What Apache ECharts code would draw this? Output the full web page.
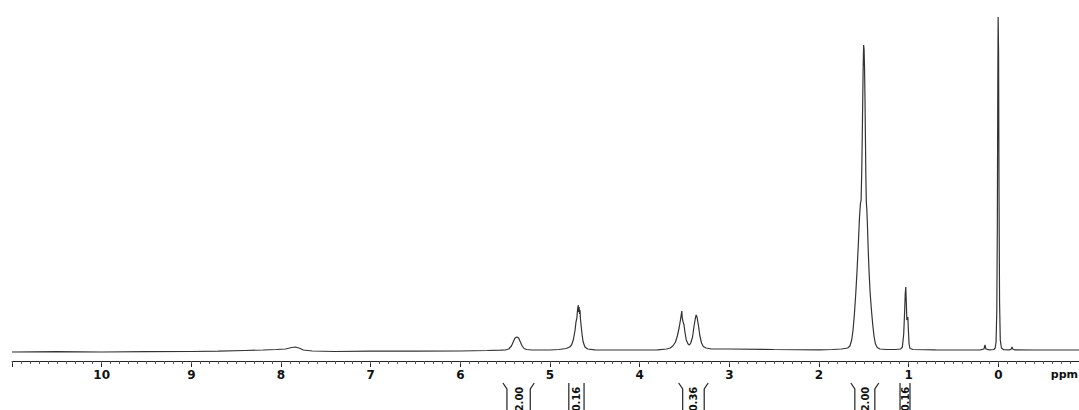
<!DOCTYPE html>
<html>
<head>
<meta charset="utf-8">
<script src="https://cdn.jsdelivr.net/npm/echarts@6/dist/echarts.min.js"></script>
<style>
html,body{margin:0;padding:0;background:#fff;}
#chart{width:1079px;height:410px;}
</style>
</head>
<body>
<div id="chart"></div>
<script>
// Chemical shift (ppm) and intensity
const ppm = [
  11.0, 10.5, 10.0, 9.5, 9.0, 8.7, 8.4, 8.2, 8.05, 7.95, 7.88, 7.84, 7.80, 7.75, 7.65, 7.4, 7.0, 6.5, 6.0, 5.7, 5.55,
  5.50, 5.46, 5.43, 5.41, 5.39, 5.37, 5.35, 5.33, 5.31, 5.29, 5.26, 5.2, 5.0, 4.9, 4.82, 4.78,
  4.76, 4.74, 4.72, 4.71, 4.70, 4.695, 4.69, 4.685, 4.68, 4.675, 4.67, 4.665, 4.66, 4.65, 4.64, 4.63, 4.61, 4.58, 4.5,
  4.3, 4.0, 3.8, 3.7,
  3.66, 3.63, 3.60, 3.58, 3.56, 3.545, 3.535, 3.53, 3.525, 3.515, 3.505, 3.495, 3.48, 3.46, 3.445, 3.43, 3.41, 3.395, 3.38, 3.37, 3.36, 3.345, 3.33, 3.31, 3.29, 3.26, 3.2,
  3.0, 2.5, 2.0, 1.85, 1.75,
  1.68, 1.655, 1.635, 1.62, 1.605, 1.59, 1.575, 1.56, 1.548, 1.538, 1.53, 1.522, 1.515, 1.508, 1.502, 1.497, 1.492, 1.487, 1.482, 1.477, 1.472, 1.466, 1.46, 1.45, 1.44, 1.43, 1.415, 1.40, 1.385, 1.37, 1.35, 1.32, 1.25, 1.15, 1.09,
  1.07, 1.055, 1.045, 1.038, 1.032, 1.026, 1.02, 1.014, 1.009, 1.003, 0.995, 0.985, 0.95, 0.7, 0.4, 0.2, 0.16, 0.148, 0.138, 0.1, 0.05,
  0.035, 0.025, 0.017, 0.011, 0.006, 0.002, -0.003, -0.008, -0.014, -0.022, -0.035, -0.06, -0.13, -0.145, -0.153, -0.16, -0.18, -0.4, -0.9
];
const intensity = [
  0, 0.3, 0, 0.3, 0.5, 0.8, 1.5, 2, 2.5, 3, 4.5, 5, 4, 2, 1, 0.5, 0.8, 0.8, 1, 1.5, 1.8,
  2, 3, 6, 10, 14, 15, 14, 10, 6, 3.5, 2.5, 2, 2, 2.5, 3.5, 5,
  7, 12, 22, 30, 34, 40, 44, 47, 40, 45, 38, 42, 33, 24, 16, 10, 5, 3, 2.2,
  2, 2, 2.2, 3,
  4, 6, 10, 16, 24, 32, 38, 41, 34, 30, 27, 20, 12, 8, 7, 9, 15, 25, 33, 37, 35, 27, 17, 9, 5.5, 4, 3,
  3, 2.5, 2.2, 2.5, 3,
  4, 6, 12, 22, 38, 58, 82, 110, 135, 148, 152, 185, 230, 280, 307, 303, 285, 255, 215, 175, 150, 142, 128, 100, 78, 60, 42, 27, 15, 8, 4.5, 3, 2.5, 2.5, 3,
  5, 18, 40, 58, 65, 50, 32, 33, 35, 22, 8, 3.5, 2.5, 2.2, 2, 2.2, 3, 7, 3, 2.2, 2.5,
  4, 10, 40, 120, 260, 335, 300, 160, 50, 12, 4, 2.3, 2.2, 3, 5, 3, 2.2, 2, 2
];

// Axis ticks and labels
const majorTicks = [0, 1, 2, 3, 4, 5, 6, 7, 8, 9, 10, 11];
const tickLabels = [0, 1, 2, 3, 4, 5, 6, 7, 8, 9, 10];
const minorTicks = [];
for (let i = -9; i <= 110; i++) minorTicks.push(Math.round(i) / 10);
const unitLabel = 'ppm';

// Integral regions
const integralStart = [5.48, 4.79, 3.52, 1.60, 1.096];
const integralEnd = [5.22, 4.62, 3.28, 1.377, 0.985];
const integralValues = ['2.00', '0.16', '0.36', '2.00', '0.16'];
const integralFlare = [true, false, true, true, false];

const X_MIN = -0.9, X_MAX = 11.0, Y_MIN = -9, Y_MAX = 342;
const FONT = '"DejaVu Sans", "Liberation Sans", Arial, sans-serif';

const spectrum = ppm.map((p, i) => [p, intensity[i]]);
const integrals = integralStart.map((s, i) => [s, integralEnd[i], i]);

const chart = echarts.init(document.getElementById('chart'), null, {renderer: 'svg'});
chart.setOption({
  animation: false,
  backgroundColor: '#ffffff',
  grid: {left: 12, right: 0, top: 10, bottom: 49},
  xAxis: [
    {
      type: 'value', inverse: true, min: X_MIN, max: X_MAX,
      axisLine: {show: true, onZero: false, lineStyle: {color: '#222', width: 1}},
      axisTick: {show: true, customValues: majorTicks, length: 6, lineStyle: {color: '#222', width: 1}},
      axisLabel: {show: true, customValues: tickLabels, margin: 8, color: '#111',
        fontFamily: FONT, fontWeight: 'bold', fontSize: 12},
      splitLine: {show: false}
    },
    {
      type: 'value', inverse: true, min: X_MIN, max: X_MAX, position: 'bottom',
      axisLine: {show: false, onZero: false},
      axisTick: {show: true, customValues: minorTicks, length: 3, lineStyle: {color: '#555', width: 1}},
      axisLabel: {show: false},
      splitLine: {show: false}
    }
  ],
  yAxis: {type: 'value', min: Y_MIN, max: Y_MAX, show: false},
  series: [
    {
      type: 'line', data: spectrum, xAxisIndex: 0, yAxisIndex: 0,
      showSymbol: false, symbol: 'none', smooth: false,
      lineStyle: {color: '#333', width: 1.2}
    },
    {
      type: 'custom', data: integrals, xAxisIndex: 0, yAxisIndex: 0, clip: false, silent: true,
      renderItem: function (params, api) {
        const s = api.value(0), e = api.value(1), idx = api.value(2);
        const pl = api.coord([s, Y_MIN]);
        const pr = api.coord([e, Y_MIN]);
        const top = pl[1] + 22;
        const bottom = 412;
        const flare = integralFlare[idx];
        const style = {stroke: '#222', lineWidth: 1.2, fill: null};
        const left = flare
          ? [[pl[0] - 4, top], [pl[0], top + 6], [pl[0], bottom]]
          : [[pl[0], top], [pl[0], bottom]];
        const right = flare
          ? [[pr[0] + 4, top], [pr[0], top + 6], [pr[0], bottom]]
          : [[pr[0], top], [pr[0], bottom]];
        return {
          type: 'group',
          children: [
            {type: 'polyline', shape: {points: left}, style: style},
            {type: 'polyline', shape: {points: right}, style: style},
            {type: 'text', x: (pl[0] + pr[0]) / 2 + 0.5, y: top + 16, rotation: Math.PI / 2,
              style: {text: integralValues[idx], fill: '#111', fontSize: 10, fontWeight: 'bold',
                fontFamily: FONT, align: 'center', verticalAlign: 'middle'}}
          ]
        };
      }
    }
  ],
  graphic: [
    {type: 'text', right: 1, top: 369, style: {text: unitLabel, fill: '#111', fontSize: 11,
      fontWeight: 'bold', fontFamily: FONT}}
  ]
});
</script>
</body>
</html>
